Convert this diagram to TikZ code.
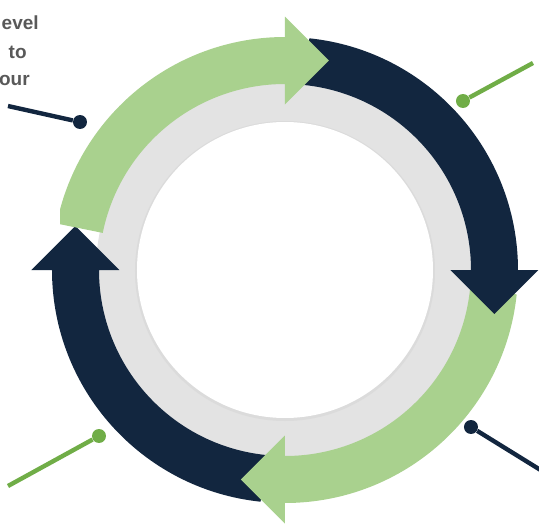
\documentclass[tikz,border=0pt]{standalone}
\usepackage{fontspec}
\setmainfont{Liberation Sans}
\usetikzlibrary{calc}
\definecolor{navy}{HTML}{12263F}
\definecolor{leaf}{HTML}{A9D18E}
\definecolor{lime}{HTML}{70AD47}
\definecolor{ring}{HTML}{E3E3E3}
\definecolor{note}{HTML}{595959}
\tikzset{
  dot/.style={circle, inner sep=0pt, minimum size=0.28cm},
  lead/.style={line width=2.5pt},
  notetext/.style={font=\fontsize{10.8}{12}\selectfont\bfseries, text=note, inner sep=0pt},
}

\begin{document}
\begin{tikzpicture}[x=0.02cm, y=0.02cm]
  \useasboundingbox (-285,-255) rectangle (254,270);

  % Gray ring and white centre
  \fill[ring] (0,0) circle[radius=189];
  \fill[black!14] (0,-1) circle[radius=150];
  \fill[white] (0,0) circle[radius=148];

  % Cycle arrows (each head lies on the next tail)
  \foreach \col/\t/\h in {navy/-96/-180, leaf/-6/-90, navy/84/0, leaf/168.5/90} {
    \fill[\col] (\t:233) arc[start angle=\t, end angle=\h, radius=233]
      -- (\h:253.5) -- ($(\h:209.5)+(\h-90:44)$) -- (\h:165.5) -- (\h:186)
      arc[start angle=\h, end angle=\t, radius=186] -- cycle;
  }

  % Text box (left)
  \fill[white] (-290,41) rectangle (-225,275);
  \node[notetext, anchor=base east] (t1) at (-246,241) {evel};
  \node[notetext, anchor=base east] (t2) at (-258,212) {to};
  \node[notetext, anchor=base east] (t3) at (-255,185) {our};

  % Leader lines
  \node[dot, fill=navy] (p1) at (-205,148) {};
  \coordinate (q1) at (-277,164);
  \draw[lead, navy] (q1) -- (p1);

  \node[dot, fill=lime] (p2) at (178,169) {};
  \coordinate (q2) at (248,207);
  \draw[lead, lime] (q2) -- (p2);

  \node[dot, fill=navy] (p3) at (186,-157) {};
  \coordinate (q3) at (262,-204);
  \draw[lead, navy] (q3) -- (p3);

  \node[dot, fill=lime] (p4) at (-186,-166) {};
  \coordinate (q4) at (-277,-216);
  \draw[lead, lime] (q4) -- (p4);
\end{tikzpicture}
\end{document}
